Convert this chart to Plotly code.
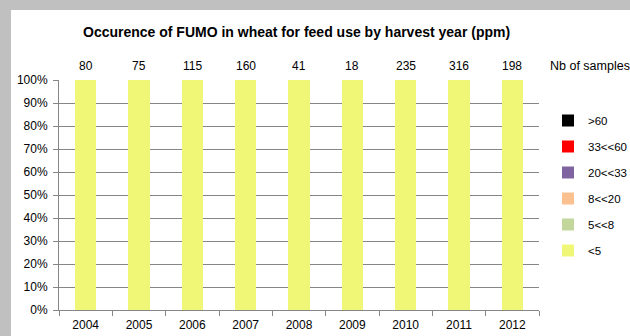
import plotly.graph_objects as go

years = ["2004", "2005", "2006", "2007", "2008", "2009", "2010", "2011", "2012"]
samples = [80, 75, 115, 160, 41, 18, 235, 316, 198]
classes = ["<5", "5<<8", "8<<20", "20<<33", "33<<60", ">60"]
shares = {
    "<5": [1.0] * 9,
    "5<<8": [0.0] * 9,
    "8<<20": [0.0] * 9,
    "20<<33": [0.0] * 9,
    "33<<60": [0.0] * 9,
    ">60": [0.0] * 9,
}
colors = {
    "<5": "#F0F776",
    "5<<8": "#C3D69B",
    "8<<20": "#FAC090",
    "20<<33": "#8064A2",
    "33<<60": "#FF0000",
    ">60": "#000000",
}

W, H = 630, 336
L, R, T, B = 59, 539, 80, 310

def px(x):
    return (x - L) / (R - L)

def py(y):
    return (B - y) / (B - T)

fig = go.Figure()
for k, c in enumerate(classes):
    fig.add_trace(go.Bar(x=years, y=shares[c], name=c, marker_color=colors[c],
                         marker_line_width=0, legendgroup=c,
                         legendrank=len(classes) - k))

annotations = []
for i, n in enumerate(samples):
    annotations.append(dict(x=i, y=py(66), xref="x", yref="paper", text=str(n),
                            showarrow=False, yanchor="middle",
                            font=dict(size=12, color="#000000", family="Liberation Sans")))
annotations.append(dict(x=px(548), y=py(66), xref="paper", yref="paper",
                        text="Nb of samples", showarrow=False, xanchor="left", yanchor="middle",
                        font=dict(size=12.5, color="#000000", family="Liberation Sans")))
annotations.append(dict(x=px(296), y=py(32), xref="paper", yref="paper",
                        text="<b>Occurence of FUMO in wheat for feed use by harvest year (ppm)</b>",
                        showarrow=False, yanchor="middle",
                        font=dict(size=14, color="#000000", family="Liberation Sans")))

fig.update_layout(
    width=W, height=H,
    margin=dict(l=L, r=W - R, t=T, b=H - B, pad=0, autoexpand=False),
    paper_bgcolor="#C0C0C0",
    plot_bgcolor="rgba(0,0,0,0)",
    barmode="stack",
    bargap=0.6,
    showlegend=True,
    legend=dict(traceorder="grouped", tracegroupgap=7,
                xref="container", yref="container",
                x=548 / W, y=1 - 106 / H, xanchor="left", yanchor="top",
                bgcolor="rgba(0,0,0,0)", itemwidth=30,
                font=dict(size=11.5, color="#000000", family="Liberation Sans")),
    font=dict(family="Liberation Sans", size=12, color="#000000"),
    annotations=annotations,
    shapes=[dict(type="rect", xref="paper", yref="paper", x0=px(11), x1=px(640),
                 y0=py(346), y1=py(10), fillcolor="#FFFFFF", line_width=0,
                 layer="below")],
)
fig.update_xaxes(type="category", showgrid=False, showline=True, linecolor="#868686",
                 linewidth=1, ticks="outside", tickson="boundaries", ticklen=5,
                 tickcolor="#868686", tickangle=0, automargin=False,
                 ticklabelstandoff=4,
                 tickfont=dict(size=12, color="#000000"))
fig.update_yaxes(range=[0, 1], tickvals=[i / 10 for i in range(11)],
                 ticktext=[f"{i*10}%" for i in range(11)], showgrid=True,
                 gridcolor="#868686", gridwidth=1, showline=True, linecolor="#868686",
                 ticks="outside", ticklen=5, tickcolor="#868686", zeroline=False,
                 automargin=False, ticklabelstandoff=3,
                 tickfont=dict(size=12, color="#000000"))

fig.write_html("out.html")
